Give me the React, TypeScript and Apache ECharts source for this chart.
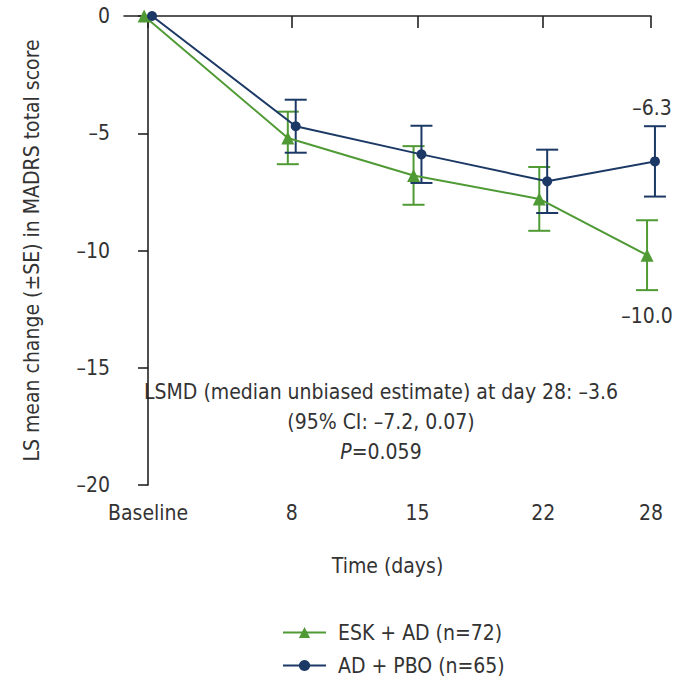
import React, { useEffect, useRef } from "react";
import * as echarts from "echarts";

const days = [0, 8, 15, 22, 28];
const dayLabels = ["Baseline", "8", "15", "22", "28"];
const eskName = "ESK + AD (n=72)";
const pboName = "AD + PBO (n=65)";
const eskMean = [0, -5.2, -6.8, -7.8, -10.2];
const eskSE = [0, 1.12, 1.25, 1.36, 1.49];
const pboMean = [0, -4.7, -5.9, -7.05, -6.2];
const pboSE = [0, 1.13, 1.22, 1.35, 1.5];
const endLabels = { esk: "–10.0", pbo: "–6.3" };
const yTicks = [0, -5, -10, -15, -20];
const noteLines = ["LSMD (median unbiased estimate) at day 28: –3.6", "(95% CI: –7.2, 0.07)", "P=0.059"];

const GREEN = "#4f9a35";
const BLUE = "#1c3966";
const TEXT = "#333333";
const FONT = "'DejaVu Sans Condensed', 'Liberation Sans Narrow', 'Arial Narrow', sans-serif";
const FS = 21;
const DODGE = 0.22;

function errorBars(name: string, mean: number[], se: number[], shift: number, color: string) {
  const data = days
    .map((d, i) => [d + shift, mean[i] - se[i], mean[i] + se[i], se[i]])
    .filter((r) => r[3] > 0);
  return {
    type: "custom",
    name,
    data,
    z: 1,
    clip: false,
    silent: true,
    renderItem: (params: any, api: any) => {
      const x = api.value(0);
      const lo = api.coord([x, api.value(1)]);
      const hi = api.coord([x, api.value(2)]);
      const w = 11;
      const style = { stroke: color, lineWidth: 2 };
      return {
        type: "group",
        children: [
          { type: "line", shape: { x1: lo[0], y1: lo[1], x2: hi[0], y2: hi[1] }, style },
          { type: "line", shape: { x1: lo[0] - w, y1: lo[1], x2: lo[0] + w, y2: lo[1] }, style },
          { type: "line", shape: { x1: hi[0] - w, y1: hi[1], x2: hi[0] + w, y2: hi[1] }, style },
        ],
      };
    },
  };
}

export default function App() {
  const ref = useRef<HTMLDivElement>(null);
  useEffect(() => {
    if (!ref.current) return;
    const chart = echarts.init(ref.current, null, { renderer: "svg" });
    const last = days.length - 1;
    const option: any = {
      animation: false,
      backgroundColor: "#ffffff",
      textStyle: { fontFamily: FONT, color: TEXT },
      grid: { left: 124, right: 30, top: 16, bottom: 196 },
      xAxis: {
        type: "value",
        min: -1.34,
        max: 28,
        name: "Time (days)",
        nameLocation: "middle",
        nameGap: 70,
        nameTextStyle: { fontFamily: FONT, fontSize: FS, color: TEXT },
        axisLine: { show: true, lineStyle: { color: "#222", width: 1.6 } },
        axisTick: { show: true, customValues: days, length: 12, lineStyle: { color: "#222", width: 1.6 } },
        axisLabel: {
          customValues: days,
          margin: 17,
          fontFamily: FONT,
          fontSize: FS,
          color: TEXT,
          formatter: (v: number) => {
            const i = days.indexOf(v);
            return i >= 0 ? dayLabels[i] : "";
          },
        },
        splitLine: { show: false },
      },
      yAxis: {
        type: "value",
        min: -20,
        max: 0,
        interval: 5,
        name: "LS mean change (±SE) in MADRS total score",
        nameLocation: "middle",
        nameGap: 82,
        nameTextStyle: { fontFamily: FONT, fontSize: FS, color: TEXT },
        axisLine: { show: true, lineStyle: { color: "#222", width: 1.6 } },
        axisTick: { show: true, length: 10, lineStyle: { color: "#222", width: 1.6 } },
        axisLabel: {
          margin: 14,
          fontFamily: FONT,
          fontSize: FS,
          color: TEXT,
          customValues: yTicks,
          formatter: (v: number) => (v < 0 ? "–" + Math.abs(v) : String(v)),
        },
        splitLine: { show: false },
      },
      legend: {
        orient: "vertical",
        left: 282,
        top: 622,
        padding: 0,
        itemWidth: 43,
        itemHeight: 14,
        itemGap: 12,
        data: [eskName, pboName],
        textStyle: { fontFamily: FONT, fontSize: FS, color: TEXT, padding: [0, 0, 0, 7] },
      },
      graphic: [
        {
          type: "text",
          x: 381,
          y: 392,
          style: { text: noteLines[0], align: "center", verticalAlign: "middle", font: `${FS}px ${FONT}`, fill: TEXT },
        },
        {
          type: "text",
          x: 381,
          y: 422,
          style: { text: noteLines[1], align: "center", verticalAlign: "middle", font: `${FS}px ${FONT}`, fill: TEXT },
        },
        {
          type: "text",
          x: 381,
          y: 452,
          style: {
            text: "{i|P}" + noteLines[2].slice(1),
            align: "center",
            verticalAlign: "middle",
            font: `${FS}px ${FONT}`,
            fill: TEXT,
            rich: { i: { fontStyle: "italic", fontFamily: FONT, fontSize: FS, fill: TEXT } },
          },
        },
      ],
      series: [
        errorBars("esk-se", eskMean, eskSE, -DODGE, GREEN),
        errorBars("pbo-se", pboMean, pboSE, DODGE, BLUE),
        {
          type: "line",
          name: eskName,
          data: days.map((d, i) => [d - DODGE, eskMean[i]]),
          symbol: "triangle",
          symbolSize: 13,
          z: 3,
          clip: false,
          itemStyle: { color: GREEN },
          lineStyle: { color: GREEN, width: 2 },
          label: {
            show: true,
            position: "bottom",
            distance: 44,
            fontFamily: FONT,
            fontSize: FS,
            color: TEXT,
            formatter: (p: any) => (p.dataIndex === last ? endLabels.esk : ""),
          },
        },
        {
          type: "line",
          name: pboName,
          data: days.map((d, i) => [d + DODGE, pboMean[i]]),
          symbol: "circle",
          symbolSize: 10,
          z: 4,
          clip: false,
          itemStyle: { color: BLUE },
          lineStyle: { color: BLUE, width: 2 },
          label: {
            show: true,
            position: "top",
            distance: 38,
            offset: [-3, 0],
            fontFamily: FONT,
            fontSize: FS,
            color: TEXT,
            formatter: (p: any) => (p.dataIndex === last ? endLabels.pbo : ""),
          },
        },
      ],
    };
    chart.setOption(option);
    return () => chart.dispose();
  }, []);
  return <div ref={ref} style={{ width: 681, height: 681, position: "absolute", left: 0, top: 0 }} />;
}
